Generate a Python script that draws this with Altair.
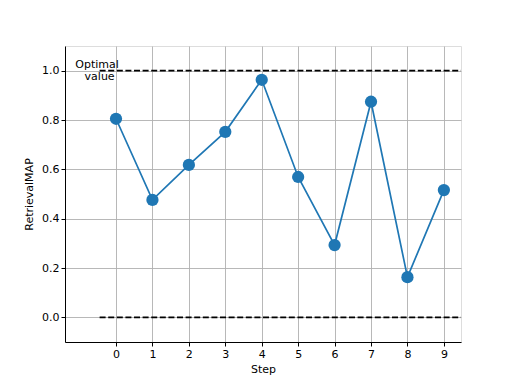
import altair as alt
import pandas as pd

steps = [0, 1, 2, 3, 4, 5, 6, 7, 8, 9]
retrieval_map = [0.805, 0.476, 0.618, 0.752, 0.963, 0.569, 0.293, 0.874, 0.163, 0.516]
ref_levels = [0.0, 1.0]
ref_x_start = -0.45
ref_x_end = 9.47
label_lines = ["Optimal", "value"]
label_x = [-0.52, -0.45]
label_y = [1.025, 0.975]
x_ticks = list(range(10))
y_ticks = [0.0, 0.2, 0.4, 0.6, 0.8, 1.0]

df = pd.DataFrame({"Step": steps, "RetrievalMAP": retrieval_map})
ref_df = pd.DataFrame({"y": ref_levels, "x": [ref_x_start] * 2, "x2": [ref_x_end] * 2})
lab_df = pd.DataFrame({"t": label_lines, "x": label_x, "y": label_y})

FONT = "DejaVu Sans"
xscale = alt.Scale(domain=[-1.4, 9.47], nice=False, zero=False)
yscale = alt.Scale(domain=[-0.1, 1.1], nice=False, zero=False)

xaxis = alt.Axis(values=x_ticks, title="Step", grid=True, format="d", labelFont=FONT,
                 titleFont=FONT, labelFontSize=11, titleFontSize=11, titleFontWeight="normal",
                 labelColor="black", titleColor="black", tickColor="black", domainColor="black",
                 gridColor="#b0b0b0", gridWidth=0.9, tickSize=4, labelPadding=2, titlePadding=4)
yaxis = alt.Axis(values=y_ticks, title="RetrievalMAP", grid=True, format=".1f", labelFont=FONT,
                 titleFont=FONT, labelFontSize=11, titleFontSize=11, titleFontWeight="normal",
                 labelColor="black", titleColor="black", tickColor="black", domainColor="black",
                 gridColor="#b0b0b0", gridWidth=0.9, tickSize=4, labelPadding=2, titlePadding=7)

line = alt.Chart(df).mark_line(color="#1f77b4", strokeWidth=1.7).encode(
    x=alt.X("Step:Q", scale=xscale, axis=xaxis),
    y=alt.Y("RetrievalMAP:Q", scale=yscale, axis=yaxis),
)
pts = alt.Chart(df).mark_point(filled=True, color="#1f77b4", size=150, opacity=1).encode(
    x=alt.X("Step:Q", scale=xscale),
    y=alt.Y("RetrievalMAP:Q", scale=yscale),
)
refs = alt.Chart(ref_df).mark_rule(color="black", strokeWidth=1.7, strokeDash=[6, 2.6]).encode(
    x=alt.X("x:Q", scale=xscale),
    x2="x2:Q",
    y=alt.Y("y:Q", scale=yscale),
)
labels = alt.Chart(lab_df).mark_text(font=FONT, fontSize=11, color="black", align="center",
                                     baseline="middle").encode(
    x=alt.X("x:Q", scale=xscale),
    y=alt.Y("y:Q", scale=yscale),
    text="t:N",
)

chart = alt.layer(refs, line, pts, labels).properties(
    width=396, height=296,
    autosize=alt.AutoSizeParams(type="none"),
    padding={"left": 57, "top": 38, "right": 43, "bottom": 34},
).configure_view(stroke="black", strokeWidth=1.2).configure(background="white")

chart.save("out.html", embed_options={"renderer": "svg", "actions": False})
